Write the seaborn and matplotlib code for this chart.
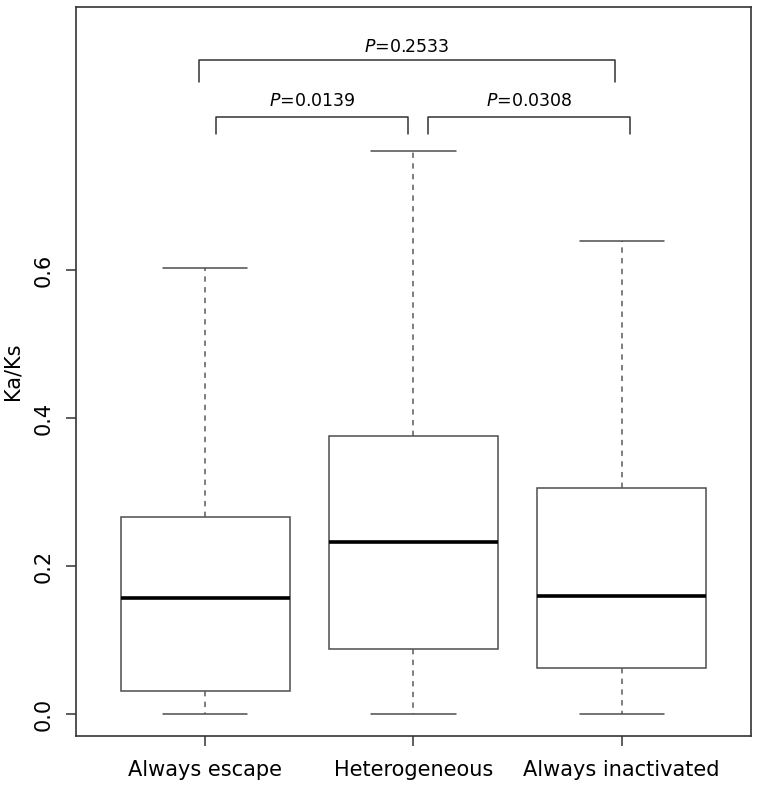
import matplotlib
matplotlib.use("Agg")
import matplotlib.pyplot as plt
import seaborn as sns
import pandas as pd

groups = ["Always escape", "Heterogeneous", "Always inactivated"]
# five-number summaries
lower = [0.0, 0.0, 0.0]
q1 = [0.031, 0.088, 0.062]
median = [0.157, 0.232, 0.159]
q3 = [0.266, 0.376, 0.305]
upper = [0.603, 0.761, 0.639]

# pairwise tests: (left group, right group, P value)
p_pairs = [(0, 2, "0.2533"), (0, 1, "0.0139"), (1, 2, "0.0308")]

rows = []
for i, g in enumerate(groups):
    for v in (lower[i], q1[i], median[i], q3[i], upper[i]):
        rows.append({"group": g, "kaks": v})
df = pd.DataFrame(rows)

sns.set_style("ticks")
plt.rcParams["font.family"] = ["DejaVu Sans"]
plt.rcParams["mathtext.fontset"] = "dejavusans"
plt.rcParams["text.color"] = "black"
plt.rcParams["axes.labelcolor"] = "black"
plt.rcParams["xtick.labelcolor"] = "black"
plt.rcParams["ytick.labelcolor"] = "black"

fig = plt.figure(figsize=(7.6, 7.86), dpi=100)
ax = fig.add_axes([0.1, 0.0636, 0.888, 0.927])

sns.boxplot(data=df, x="group", y="kaks", order=groups, whis=(0, 100),
            width=0.81, color="white", linecolor="#4d4d4d", linewidth=1.1,
            medianprops=dict(color="black", linewidth=2.6),
            whiskerprops=dict(color="#5a5a5a", linestyle=(0, (3.5, 3.5))),
            ax=ax)

# significance brackets
spans = {(0, 2): (-0.03, 1.97, 0.884, 0.854, 0.902),
         (0, 1): (0.05, 0.976, 0.807, 0.784, 0.828),
         (1, 2): (1.07, 2.04, 0.807, 0.784, 0.828)}
for a, b, p in p_pairs:
    x0, x1, yt, yb, ytxt = spans[(a, b)]
    ax.plot([x0, x0, x1, x1], [yb, yt, yt, yb], color="#333333", lw=1.1)
    ax.text((x0 + x1) / 2, ytxt, r"$\mathit{P}$=" + p, ha="center",
            va="center", fontsize=12.5)

ax.set_xlim(-0.62, 2.62)
ax.set_ylim(-0.0297, 0.955)
ax.set_yticks([0.0, 0.2, 0.4, 0.6])
ax.set_yticklabels(["0.0", "0.2", "0.4", "0.6"], rotation=90, va="center")
ax.tick_params(axis="both", labelsize=15, length=7, width=1.1,
               color="#333333", direction="out")
ax.tick_params(axis="x", pad=10)
ax.tick_params(axis="y", pad=9)
ax.set_xlabel("")
ax.set_ylabel("Ka/Ks", fontsize=15, labelpad=8)
for s in ax.spines.values():
    s.set_visible(True)
    s.set_linewidth(1.2)
    s.set_color("#333333")

fig.savefig("out.png", dpi=100)
